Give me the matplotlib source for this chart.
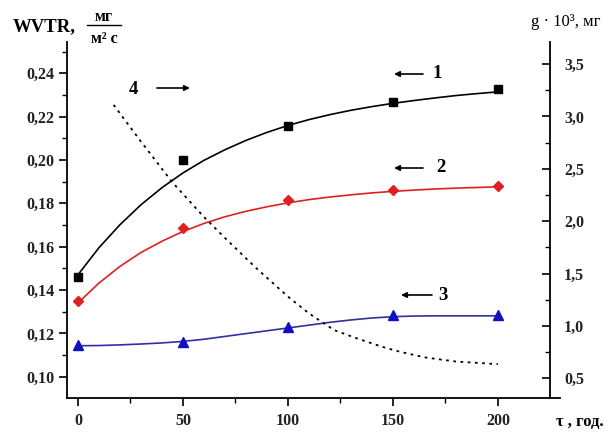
import matplotlib
matplotlib.use("Agg")
import matplotlib.pyplot as plt
from matplotlib.ticker import MultipleLocator, FuncFormatter
from matplotlib.lines import Line2D

# ---- data ----
tau = [0, 50, 100, 150, 200]
wvtr_1 = [0.146, 0.200, 0.2158, 0.2269, 0.2326]
wvtr_2 = [0.135, 0.1688, 0.1815, 0.1862, 0.1880]
wvtr_3 = [0.1145, 0.1160, 0.1230, 0.1283, 0.1283]

curve_x = [0, 10, 20, 30, 40, 50, 60, 70, 80, 90, 100,
           110, 120, 130, 140, 150, 160, 170, 180, 190, 200]
curve_1 = [0.147, 0.1595, 0.1701, 0.1793, 0.1872, 0.1940, 0.1998, 0.2047, 0.2090, 0.2127, 0.2159,
           0.2186, 0.2209, 0.2229, 0.2246, 0.2261, 0.2274, 0.2286, 0.2297, 0.2306, 0.2314]
curve_2 = [0.134, 0.1432, 0.1509, 0.1573, 0.1625, 0.1670, 0.1707, 0.1738, 0.1763, 0.1784, 0.1802,
           0.1817, 0.1829, 0.1839, 0.1848, 0.1855, 0.1861, 0.1866, 0.1870, 0.1873, 0.1876]
curve_3 = [0.1143, 0.1144, 0.1147, 0.1151, 0.1156, 0.1163, 0.1173, 0.1186, 0.1199, 0.1212, 0.1225,
           0.1238, 0.1251, 0.1262, 0.1271, 0.1277, 0.1280, 0.1281, 0.1281, 0.1281, 0.1281]

g_x = [17, 30, 45, 60, 70, 85, 100, 110, 122, 133, 145, 153, 165, 180, 200]
g_4 = [3.11, 2.76, 2.37, 2.04, 1.84, 1.55, 1.28, 1.12, 0.96, 0.88, 0.80, 0.755, 0.70, 0.66, 0.635]

left_ticks = [0.10, 0.12, 0.14, 0.16, 0.18, 0.20, 0.22, 0.24]
right_ticks = [0.5, 1.0, 1.5, 2.0, 2.5, 3.0, 3.5]
x_ticks = [0, 50, 100, 150, 200]

SERIF = "Liberation Serif"
W, H = 616, 434

fig = plt.figure(figsize=(W / 100, H / 100), dpi=100)
ax = fig.add_axes([67 / W, 1 - 398 / H, (550 - 67) / W, (398 - 42) / H])
ax2 = ax.twinx()

red = "#e02020"
blue = "#1010c0"
navy = "#3030a0"

ax.plot(curve_x, curve_1, color="black", lw=1.2)
ax.plot(curve_x, curve_2, color=red, lw=1.2)
ax.plot(curve_x, curve_3, color=navy, lw=1.2)
ax.plot(tau, wvtr_1, "s", color="black", ms=6, ls="none")
ax.plot(tau, wvtr_2, "D", color=red, ms=5.5, ls="none")
ax.plot(tau, wvtr_3, "^", color=blue, ms=7, ls="none")
ax2.plot(g_x, g_4, color="black", lw=1.3, ls=(0, (1.5, 2.5)))

ax.set_xlim(-5.2, 224.8)
ax.set_ylim(0.0902, 0.2544)
ax2.set_ylim(0.312, 3.71)

comma = FuncFormatter(lambda v, p: f"{v:.2f}".replace(".", ","))
comma1 = FuncFormatter(lambda v, p: f"{v:.1f}".replace(".", ","))

ax.set_xticks(x_ticks)
ax.xaxis.set_minor_locator(MultipleLocator(25))
ax.set_yticks(left_ticks)
ax.yaxis.set_major_formatter(comma)
ax.yaxis.set_minor_locator(MultipleLocator(0.01))
ax2.set_yticks(right_ticks)
ax2.yaxis.set_major_formatter(comma1)
ax2.yaxis.set_minor_locator(MultipleLocator(0.25))

ax.spines["top"].set_visible(False)
ax2.spines["top"].set_visible(False)
for sp in ["left", "bottom"]:
    ax.spines[sp].set_linewidth(1.3)
ax2.spines["right"].set_linewidth(1.3)
ax.spines["right"].set_visible(False)
ax2.spines["left"].set_visible(False)
ax2.spines["bottom"].set_visible(False)

ax.tick_params(axis="both", which="major", direction="out", length=6, width=1.2,
               labelsize=11.5, pad=3)
ax.tick_params(axis="both", which="minor", direction="out", length=3.5, width=1.0)
ax.tick_params(axis="x", pad=5)
ax2.tick_params(axis="y", which="major", direction="in", length=6, width=1.2,
                labelsize=11.5, pad=10)
ax2.tick_params(axis="y", which="minor", direction="in", length=3.5, width=1.0)
for lab in ax.get_xticklabels() + ax.get_yticklabels() + ax2.get_yticklabels():
    lab.set_fontfamily(SERIF)
    lab.set_fontweight("bold")
    lab.set_color("#222222")

# extension of the bottom axis line past the right spine
fig.add_artist(Line2D([550 / W, 560 / W], [1 - 398 / H, 1 - 398 / H],
                      color="black", lw=1.3))

def fx(px):
    return px / W

def fy(py):
    return 1 - py / H

# axis titles
fig.text(fx(13), fy(27), "WVTR,", family=SERIF, weight="bold", fontsize=13.5,
         ha="left", va="center")
fig.text(fx(104), fy(17), "мг", family=SERIF, weight="bold", fontsize=11.5,
         ha="center", va="center")
fig.add_artist(Line2D([fx(87), fx(121)], [fy(25), fy(25)], color="black", lw=1.0))
fig.text(fx(104), fy(39), "м² с", family=SERIF, weight="bold", fontsize=11.5,
         ha="center", va="center")
fig.text(fx(531), fy(22), "g · 10³, мг", family=SERIF, fontsize=12,
         ha="left", va="center")
fig.text(fx(556), fy(422), "τ , год.", family=SERIF, weight="bold", fontsize=12,
         ha="left", va="center")

# curve labels with arrows
def label_arrow(num, tx, ty, x0, x1, y):
    fig.text(fx(tx), fy(ty), num, family=SERIF, weight="bold", fontsize=13.5,
             ha="center", va="center")
    ax.annotate("", xy=(fx(x1), fy(y)), xytext=(fx(x0), fy(y)),
                xycoords="figure fraction", textcoords="figure fraction",
                arrowprops=dict(arrowstyle="-|>", color="black", lw=1.2,
                                mutation_scale=8, shrinkA=0, shrinkB=0))

label_arrow("1", 437, 74, 423, 394, 74)
label_arrow("2", 441, 168, 423, 394, 168)
label_arrow("3", 443, 295, 432, 401, 295)
label_arrow("4", 133, 89, 157, 190, 88)

fig.savefig("out.png", dpi=100)
